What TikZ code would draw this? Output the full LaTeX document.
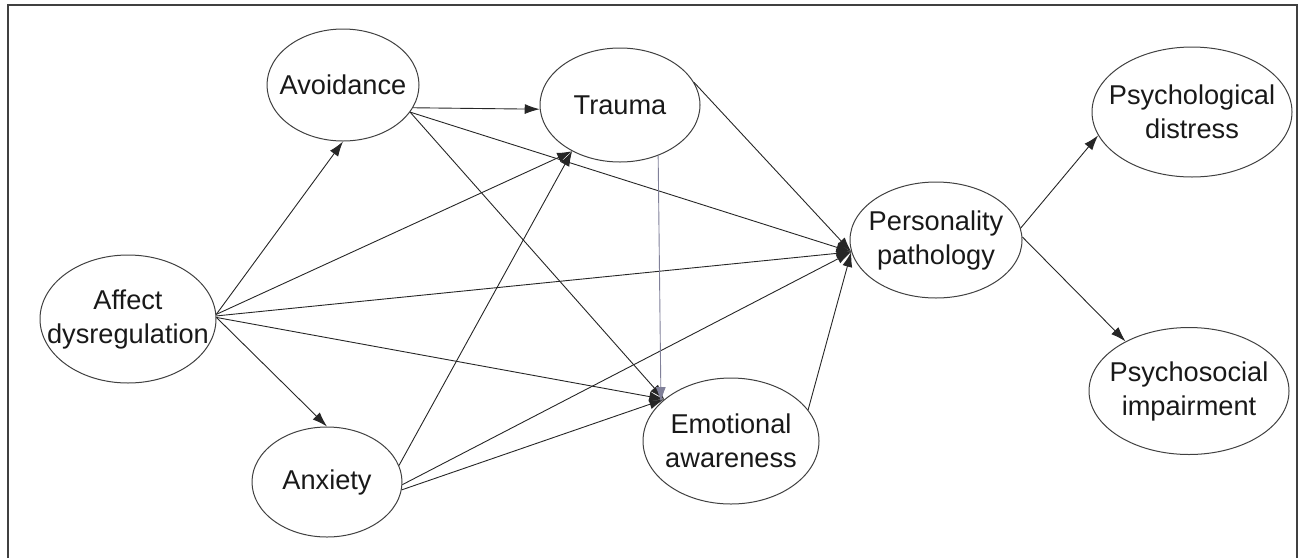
\documentclass[tikz,border=0pt]{standalone}
\usepackage{fontspec}
\setmainfont{Liberation Sans}
\usetikzlibrary{shapes.geometric,arrows.meta}
\begin{document}
\begin{tikzpicture}[x=0.5pt,y=-0.5pt,
    var/.style={ellipse,draw=black!75,line width=0.5pt,inner xsep=-12pt,inner ysep=0pt,
      align=center,text=black!90,font=\fontsize{13.6}{17}\selectfont},
    arr/.style={-{Latex[length=7.5pt,width=5pt]},line width=0.45pt,draw=black!85}]
  \useasboundingbox (0,0) rectangle (1301,558);
  \draw[line width=1.2pt,color=black!75] (8,558) -- (8,5) -- (1297,5) -- (1297,558);

  \node[var,minimum width=88pt,minimum height=64pt] (aff) at (128,319) {Affect\\dysregulation};
  \node[var,minimum width=76pt,minimum height=56pt] (avo) at (343,85) {Avoidance};
  \node[var,minimum width=75pt,minimum height=55pt] (anx) at (327,482) {Anxiety};
  \node[var,minimum width=80pt,minimum height=57pt] (trauma) at (620,105) {Trauma};
  \node[var,minimum width=88pt,minimum height=63pt] (emo) at (731,441) {Emotional\\awareness};
  \node[var,minimum width=86pt,minimum height=58pt] (pers) at (936,240) {Personality\\pathology};
  \node[var,minimum width=100pt,minimum height=65pt] (dist) at (1192,112) {Psychological\\distress};
  \node[var,minimum width=100pt,minimum height=63.5pt] (imp) at (1189,391) {Psychosocial\\impairment};

  \draw[arr] (aff.3) -- (avo.south);
  \draw[arr] (aff.1) -- (anx.north);
  \draw[arr] (aff.3) -- (trauma.224);
  \draw[arr] (aff.2) -- (pers.188);
  \draw[arr] (aff.1) -- (emo.148);
  \draw[arr] (avo.-18) -- (trauma.183);
  \draw[arr] (avo.-22) -- (pers.188);
  \draw[arr] (avo.-22) -- (emo.148);
  \draw[arr] (anx.13) -- (trauma.224);
  \draw[arr] (anx.-2) -- (pers.188);
  \draw[arr] (anx.-6) -- (emo.148);
  \draw[arr] (trauma.17) -- (pers.188);
  \draw[arr,draw=blue!20!black!50] (trauma.-53) -- (emo.151);
  \draw[arr] (emo.22) -- (pers.188);
  \draw[arr] (pers.8) -- (dist.194);
  \draw[arr] (pers.2) -- (imp.142);
\end{tikzpicture}
\end{document}
